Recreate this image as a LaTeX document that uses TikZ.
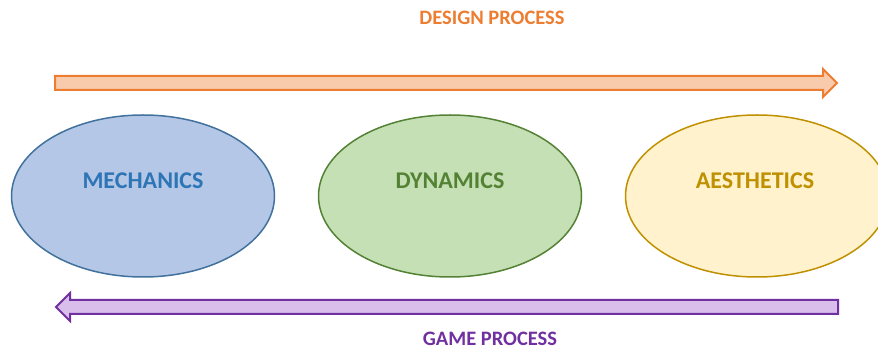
\documentclass[tikz,border=0pt]{standalone}
\usepackage{fontspec}
\setmainfont{Carlito}
\usetikzlibrary{shapes.geometric}
\definecolor{designline}{HTML}{ED7D31}
\definecolor{designfill}{HTML}{F8CBAD}
\definecolor{gameline}{HTML}{7030A0}
\definecolor{gamefill}{HTML}{D9BEEB}
\definecolor{mechline}{HTML}{41719C}
\definecolor{mechfill}{HTML}{B4C7E7}
\definecolor{mechtext}{HTML}{2E75B6}
\definecolor{dynline}{HTML}{548235}
\definecolor{dynfill}{HTML}{C5E0B4}
\definecolor{aesline}{HTML}{BF9000}
\definecolor{aesfill}{HTML}{FFF2CC}
\tikzset{
  phase/.style={ellipse, draw, line width=1.5pt, minimum width=263pt, minimum height=162pt, inner sep=0pt},
  phasetext/.style={font=\fontsize{24}{28}\selectfont\bfseries, yshift=15pt},
  title/.style={font=\fontsize{20.5}{24}\selectfont\bfseries},
}
\begin{document}
\begin{tikzpicture}[x=1pt,y=-1pt]
  \useasboundingbox (0,0) rectangle (878,352);
  % design process arrow
  \draw[designline, fill=designfill, line width=2pt, line join=miter]
    (55,76) -- (823,76) -- (823,69) -- (837,83) -- (823,97) -- (823,90) -- (55,90) -- cycle;
  \node[title, text=designline] (design) at (492,18) {DESIGN PROCESS};
  % the three phases
  \node[phase, mechline, fill=mechfill] (mech) at (143,196) {};
  \node[phase, dynline, fill=dynfill] (dyn) at (450,196) {};
  \node[phase, aesline, fill=aesfill] (aes) at (757,196) {};
  \node[phasetext, text=mechtext] (mechlabel) at (mech.center) {MECHANICS};
  \node[phasetext, text=dynline] (dynlabel) at (dyn.center) {DYNAMICS};
  \node[phasetext, text=aesline] (aeslabel) at ([xshift=-2pt]aes.center) {AESTHETICS};
  % game process arrow
  \draw[gameline, fill=gamefill, line width=2pt, line join=miter]
    (838,300) -- (70,300) -- (70,293) -- (56,307) -- (70,321) -- (70,314) -- (838,314) -- cycle;
  \node[title, text=gameline] (game) at (490,339) {GAME PROCESS};
\end{tikzpicture}
\end{document}
